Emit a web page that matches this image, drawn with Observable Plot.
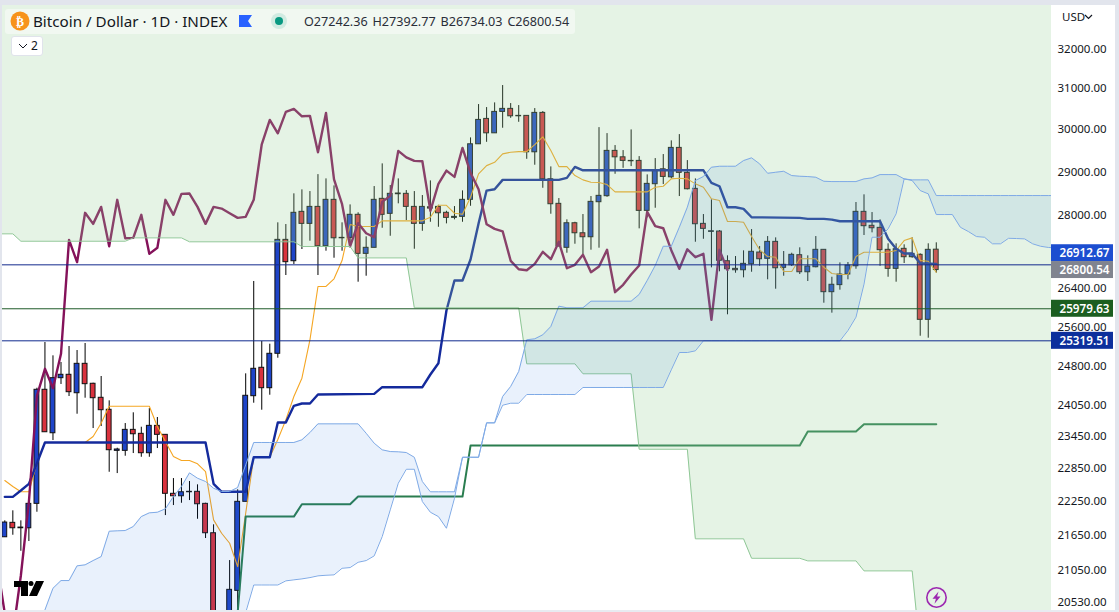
<!DOCTYPE html>
<html>
<head>
<meta charset="utf-8">
<script src="https://cdn.jsdelivr.net/npm/d3@7"></script>
<script src="https://cdn.jsdelivr.net/npm/@observablehq/plot@0.6"></script>
<style>
html,body{margin:0;padding:0;width:1119px;height:612px;overflow:hidden;background:#fff;font-family:"Noto Sans",sans-serif;}
#chart{position:absolute;left:0;top:0;}
.ov{position:absolute;}
.strip{position:absolute;background:#e2e5ed;}
</style>
</head>
<body>
<div id="chart"></div>
<div class="strip" style="left:0;top:0;width:1119px;height:5px"></div>
<div class="strip" style="left:0;top:0;width:2px;height:612px"></div>
<div class="strip" style="left:1115px;top:0;width:4px;height:612px"></div>
<div class="strip" style="left:0;top:610px;width:1119px;height:2px;background:#e8ebf1"></div>
<div class="ov" style="left:5px;top:9px;width:570px;height:25px;background:rgba(255,255,255,.45);border-radius:3px"></div>
<svg class="ov" style="left:0;top:0" width="300" height="60">
  <circle cx="20" cy="21" r="9.5" fill="#f7931a"/>
  <text x="20" y="25.5" text-anchor="middle" font-size="12" font-weight="700" fill="#fff" font-family="DejaVu Sans">₿</text>
  <path d="M239 15h13l-4 6 4 6h-13z" fill="#2962ff"/>
  <circle cx="279" cy="21" r="8" fill="#089981" fill-opacity=".14"/>
  <circle cx="279" cy="21" r="4" fill="#089981"/>
</svg>
<div class="ov" style="left:33px;top:11px;font-size:15.2px;line-height:20px;color:#131722;white-space:nowrap">Bitcoin / Dollar · 1D · INDEX</div>
<div class="ov" style="left:304px;top:13px;font-size:12.6px;line-height:18px;color:#2a2e39;white-space:pre;word-spacing:1.6px">O27242.36 H27392.77 B26734.03 C26800.54</div>
<div class="ov" style="left:11px;top:36px;width:30px;height:18px;background:#fff;border:1px solid #e0e3eb;border-radius:3px;font-size:12px;line-height:18px;color:#131722">
  <svg width="12" height="18" style="position:absolute;left:5px;top:0"><path d="M2 7l4 4 4-4" fill="none" stroke="#131722" stroke-width="1"/></svg>
  <span style="position:absolute;left:19px;top:0">2</span>
</div>
<div class="ov" style="left:1062px;top:9px;font-size:11.5px;line-height:16px;color:#131722">USD</div>
<svg class="ov" style="left:1084px;top:13px" width="10" height="8"><path d="M1 2l3.5 3.5L8 2" fill="none" stroke="#131722" stroke-width="1.2"/></svg>
<svg class="ov" style="left:0;top:570px" width="60" height="36">
  <path d="M14 11h14v15h-7v-9h-7z" fill="#000"/><circle cx="31" cy="13.5" r="2.5" fill="#000"/><path d="M36 11h8l-7 15h-8z" fill="#000"/>
</svg>
<svg class="ov" style="left:924px;top:585px" width="26" height="26">
  <circle cx="12.5" cy="12.5" r="9.7" fill="none" stroke="#9c27b0" stroke-width="1.6"/>
  <path d="M14.5 6.5l-6 7.2h3.4l-1.4 5 6-7.2h-3.4z" fill="#9c27b0"/>
</svg>
<script>
// OHLC per daily bar, index 0 = leftmost bar. Bar 27 lies below the visible range.
const open = [21624,21876,21793,21781,22212,24343,23508,24571,24638,24276,24856,24461,24187,23955,23178,23178,23572,23497,23134,23648,23478,22392,22348,22428,22428,22212,21694,null,20200,20713,22248,24218,24777,24374,25057,27458,26991,28083,27813,28195,27317,28355,27493,27502,28016,27151,27283,28378,28038,28483,28492,28195,27813,28186,28195,28061,27947,27970,28355,29649,30259,29911,30430,30504,30323,30333,29459,30406,28827,28264,27283,27827,27604,27516,28301,28438,29492,29340,29256,29256,28105,28713,29059,28873,29563,28976,28606,27813,27635,27642,26991,26826,26796,26926,27180,27043,27414,26848,26904,27122,26753,26861,27239,26328,26478,26704,26882,28083,27770,27724,27239,26826,27261,27078,27130,25750,27242.36];
const high = [21911,22088,21911,22223,24374,25285,25016,24882,25204,25123,25265,24472,24604,24128,23227,23692,23897,23622,23979,23807,23478,22668,22668,22614,22554,22223,21841,null,21223,22464,24657,26555,25306,25251,27836,27798,28492,28583,28544,28935,28836,28674,27836,28240,28061,27525,28659,29186,28682,28836,28567,28544,28453,28790,28231,28096,28202,28560,29801,30610,30536,30651,31081,30634,30585,30333,30511,30438,29115,28384,27903,27849,28022,28430,30048,29904,29618,29499,29993,29357,28929,29310,29405,29730,29880,29263,28836,28022,28355,27664,27108,27093,27217,27686,27311,27531,27502,27202,27165,27283,27108,27531,27239,26646,26955,26963,28294,28469,28067,27903,27371,27371,27349,27502,27151,27371,27392.77];
const low = [21624,21659,21382,21550,22063,23527,23371,24447,24212,23870,24179,23597,23635,22783,22759,23078,23128,23059,23059,23221,22004,22182,22223,22271,21939,21602,20200,null,20100,20300,22248,24082,23947,24237,24968,26683,26920,27246,27428,26683,27209,27056,27209,27283,26540,26668,27283,27715,27538,28264,27887,27252,27648,27849,27737,27813,27903,27849,28209,29649,29696,29911,30033,30274,30177,29293,29154,28620,28029,27296,27165,27362,27115,27231,27275,28413,28943,29082,29122,27702,27947,28164,28705,28836,28430,28583,27406,27471,26848,26762,25854,26732,26633,26753,26882,26591,26391,26668,26876,26704,26555,26848,26096,25888,26370,26591,26818,27554,27613,26882,26646,26540,26941,27056,25413,25373,26734.03];
const close = [21881,21781,21781,22212,24343,23527,24571,24638,24296,24856,24453,24179,23947,23190,23203,23572,23489,23134,23648,23478,22392,22348,22420,22420,22205,21694,20250,null,20730,22248,24226,24757,24374,25057,27458,26970,28061,27813,28195,27317,28355,27493,27502,28016,27151,27283,28355,28016,28492,28499,28195,27813,28195,28157,28051,27947,27970,28355,29649,30235,29911,30430,30504,30323,30333,29459,30406,28827,28255,27317,27827,27604,27516,28309,28446,29492,29340,29256,29247,28105,28721,29029,28882,29563,28976,28597,27805,27702,27648,27000,26818,26796,26934,27196,27034,27414,26839,26913,27130,26753,26876,27239,26328,26485,26704,26898,28083,27761,27715,27231,26826,27252,27078,27151,25750,27239,26800.54];

// Conversion line (thin orange), one value per bar
const tenkan = [22632,22523,22428,22428,22948,23334,23334,23334,23334,23334,23334,23446,23698,24023,24023,24023,24023,24023,24023,23635,23352,23072,22998,22998,22938,22796,21928,21694,21520,21121,22045,23059,23059,23059,23390,23762,24212,24570,25340,26449,26449,26612,27006,27798,27754,27754,27754,27880,27880,27880,27880,27880,27880,27961,28231,28231,28051,28029,28413,28952,29145,29223,29421,29459,29475,29475,29642,29827,29499,29122,29122,28913,28813,28758,28751,28705,28537,28537,28537,28537,28537,28643,28666,28836,28850,28836,28721,28643,28378,28339,27865,27865,27849,27531,27239,27093,27078,26769,26769,27043,27043,27043,26861,26726,26704,26704,27093,27187,27187,27187,27187,27224,27443,27502,27006,26991,26753];

// Base line (thick navy), vertices
const kijunBar = [0,1,2,3,4,5,25,26,27,30,31,33,34,35,36,37,38,39,46,47,52,53,54,55,56,57,58,59,60,61,62,69,70,71,72,87,88,89,90,91,92,93,99,100,102,103,104,109,110,111,112,113,114,116];
const kijunVal = [22337,22337,22451,22572,22948,23334,23334,22572,22428,22428,23059,23059,23711,23711,24031,24076,24076,24251,24264,24394,24394,24644,24868,25944,26576,26576,27028,27820,28567,28597,28813,28813,28859,29115,29036,29036,28744,28666,28186,28186,28150,27961,27947,27925,27925,27909,27871,27871,27481,27261,27158,27158,26948,26934];

// Lagging span (thick maroon), starting at bar -1
const lagging = [21200,20340,20000,20970,22248,24226,24757,24374,25057,27458,26970,28061,27813,28195,27317,28355,27493,27502,28016,27151,27283,28355,28016,28492,28499,28195,27813,28195,28157,28051,27947,27970,28355,29649,30235,29911,30430,30504,30323,30333,29459,30406,28827,28255,27317,27827,27604,27516,28309,28446,29492,29340,29256,29247,28105,28721,29029,28882,29563,28976,28597,27805,27702,27648,27000,26818,26796,26934,27196,27034,27414,26839,26913,27130,26753,26876,27239,26328,26485,26704,26898,28083,27761,27715,27231,26826,27252,27078,27151,25750,27239,26800.54];
const laggingStart = -1;

// Slow base line of the second Ichimoku (thick green), vertices
const slowBar = [29,30,36,37,43,44,57,58,99,100,106,107,116];
const slowVal = [20355,21986,21986,22205,22205,22342,22342,23277,23277,23540,23540,23679,23679];

// Blue cloud, bars 4..131; 20100 marks an edge below the visible range
const cloudStart = 4;
const spanA = [20100,20398,20756,20885,20885,21133,
21150,21223,21291,21729,21736,21741,21811,21986,22052,22063,
22123,22342,22523,22772,22674,22614,22492,22433,22433,22505,
22919,23334,23334,23334,23334,23334,23334,23384,23521,23686,
23686,23686,23686,23686,23686,23508,23321,23197,23165,23160,
23147,23059,22614,22428,22428,22428,22428,23059,23059,23059,
23705,23705,24212,24408,24703,25340,25360,25442,25612,26034,
26000,26000,26000,26138,26138,26138,26138,26138,26138,26280,
26576,26898,27317,27317,27737,28186,28797,28890,29107,29130,
29130,29130,29263,29327,29187,28966,28990,29013,28913,28897,
28890,28874,28781,28774,28774,28774,28774,28836,28859,28936,
28936,28936,28836,28797,28567,28492,28022,28022,28022,27737,
27642,27531,27516,27371,27371,27493,27487,27480,27371,27317,27290,27283];
const spanB = [20100,20100,20100,20100,20100,20100,
20100,20100,20100,20100,20100,20100,20100,20100,20100,20100,
20100,20100,20100,20100,20100,20100,20100,20100,20100,20100,
20355,20811,20811,20811,20811,20880,20897,20913,20935,20964,
20974,20981,21092,21104,21194,21223,21303,21636,22105,22583,
22838,22838,22253,22063,21986,21781,22312,23059,23059,23059,
23705,23705,24043,24082,24082,24251,24251,24251,24251,24251,
24251,24251,24388,24388,24388,24388,24388,24388,24388,24388,
24388,24388,24388,24737,25083,25083,25117,25319.51,25319.51,25319.51,
25319.51,25319.51,25319.51,25319.51,25319.51,25319.51,25319.51,25319.51,25319.51,25319.51,
25319.51,25319.51,25319.51,25319.51,25319.51,25530,25805,26499,27516,27516,
27702,28038,28836,28813,28813,28813,28453,28453,28453,28453,
28453,28453,28453,28453,28453,28453,28453,28453,28453,28453,28453,28453];

// Green cloud lower edge, vertices; its upper edge is above the visible range
const greenBar = [-1,1,2,15,16,22,23,36,37,43,44,50,51,64,65,71,72,78,79,85,86,92,93,99,100,106,107,113,114,131];
const greenVal = [27591,27591,27428,27428,27502,27502,27415,27415,27311,27311,27063,27063,26000,26000,24856,24856,24658,24658,23208,23208,21597,21597,21262,21262,21218,21218,21048,21048,19728,19728];
const greenUpper = 34000;

// Axis and price tags
const priceTicks = [32000,31000,30000,29000,28000,26400,25600,24800,24050,23450,22850,22250,21650,21050,20530];
const priceLines = [26912.67,25979.63,25319.51];
const lineColors = ["#12298c","#1f5a28","#0f2a8e"];
const tagPrices = [26912.67,26800.54,25979.63,25319.51];
const tagColors = ["#1c4ed0","#80848f","#1b5e20","#0c2f9c"];
const tagShift = [-11.6,0,0,0];

const bars = open.map((o,i)=>({i,o,h:high[i],l:low[i],c:close[i]})).filter(d=>d.o!=null);
const tenkanRows = tenkan.map((v,i)=>({i,v}));
const kijunRows = kijunBar.map((i,k)=>({i,v:kijunVal[k]}));
const lagRows = lagging.map((v,k)=>({i:k+laggingStart,v}));
const slowRows = slowBar.map((i,k)=>({i,v:slowVal[k]}));
const cloudRows = spanA.map((a,k)=>({i:k+cloudStart,a,b:spanB[k]}));
const greenRows = greenBar.map((i,k)=>({i,v:greenVal[k]}));

const tagX1 = 130.35, tagX2 = 138.07, tagHalf = Math.exp(8.5/1245);
const tagMarks = tagPrices.flatMap((p,k)=>[
  Plot.rect([p],{x1:()=>tagX1,x2:()=>tagX2,y1:d=>d/tagHalf,y2:d=>d*tagHalf,fill:tagColors[k],dy:tagShift[k]}),
  Plot.text([p],{x:()=>tagX1,y:d=>d,text:d=>d.toFixed(2),fill:"#fff",fontSize:11.7,fontWeight:600,textAnchor:"start",dx:8,dy:tagShift[k]})
]);

const chart = Plot.plot({
  width:1119,height:612,marginLeft:0,marginRight:68,marginTop:0,marginBottom:0,
  style:{background:"#fff",fontFamily:"'Noto Sans',sans-serif"},
  x:{domain:[-0.5355,130.35],axis:null},
  y:{type:"log",domain:[20356,33278],range:[612,0]},
  marks:[
    Plot.ruleX(bars,{x:"i",y1:"l",y2:"h",stroke:"#000",strokeWidth:1,clip:true}),
    Plot.rect(bars,{x1:d=>d.i-0.3,x2:d=>d.i+0.3,y1:"o",y2:"c",fill:d=>d.c>=d.o?"#1e44c8":"#d9323e",stroke:"#111",strokeWidth:1,clip:true}),
    Plot.line(tenkanRows,{x:"i",y:"v",stroke:"#f5a623",strokeWidth:1.1,clip:true}),
    Plot.line(slowRows,{x:"i",y:"v",stroke:"#2a7d4f",strokeWidth:2,clip:true}),
    Plot.line(kijunRows,{x:"i",y:"v",stroke:"#142a9c",strokeWidth:2.4,clip:true}),
    Plot.line(lagRows,{x:"i",y:"v",stroke:"#84125a",strokeWidth:2.4,clip:true}),
    Plot.areaY(greenRows,{x:"i",y1:"v",y2:()=>greenUpper,fill:"rgb(151,207,151)",fillOpacity:0.25,clip:true}),
    Plot.line(greenRows,{x:"i",y:"v",stroke:"#8fc796",strokeWidth:1,clip:true}),
    Plot.areaY(cloudRows,{x:"i",y1:"a",y2:"b",fill:"rgb(40,120,230)",fillOpacity:0.1,clip:true}),
    Plot.line(cloudRows,{x:"i",y:"a",stroke:"#7faae6",strokeWidth:1,clip:true}),
    Plot.line(cloudRows,{x:"i",y:"b",stroke:"#7faae6",strokeWidth:1,clip:true}),
    ...priceLines.map((p,k)=>Plot.ruleY([p],{stroke:lineColors[k],strokeWidth:1})),
    Plot.axisY(priceTicks,{anchor:"right",label:null,tickSize:0,tickPadding:6,tickFormat:d=>d.toFixed(2),textAnchor:"start",fontSize:11.5,fill:"#131722"}),
    ...tagMarks
  ]
});
document.getElementById("chart").appendChild(chart);
</script>
</body>
</html>
